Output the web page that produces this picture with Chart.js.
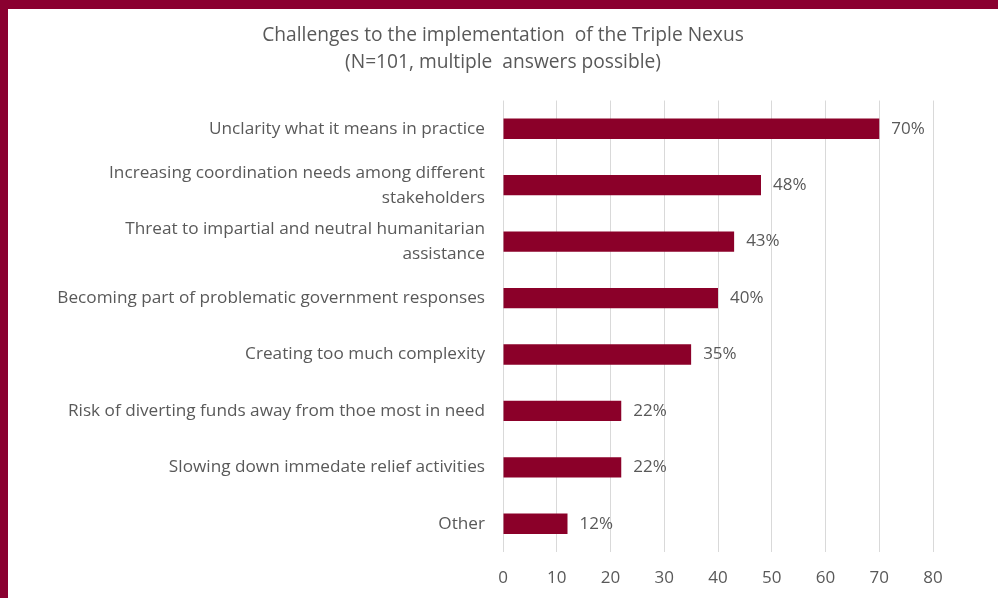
<!DOCTYPE html>
<html>
<head>
<meta charset="utf-8">
<script src="https://cdn.jsdelivr.net/npm/chart.js@4"></script>
<style>
  html, body { margin: 0; padding: 0; background: #8a0030; }
  #wrap { position: absolute; left: 8px; top: 9px; width: 990px; height: 589px; background: #fff; }
</style>
</head>
<body>
<div id="wrap"><canvas id="nexusChart" width="990" height="589"></canvas></div>
<script>
const categories = [
    'Unclarity what it means in practice',
    ['Increasing coordination needs among different', 'stakeholders'],
    ['Threat to impartial and neutral humanitarian', 'assistance'],
    'Becoming part of problematic government responses',
    'Creating too much complexity',
    'Risk of diverting funds away from thoe most in need',
    'Slowing down immedate relief activities',
    'Other'
];
const shares = [70, 48, 43, 40, 35, 22, 22, 12];
const titleLines = ['Challenges to the implementation  of the Triple Nexus', '(N=101, multiple  answers possible)'];

const textGray = '#595959';
const barColor = '#8b0029';
const fontFamily = '"Open Sans", sans-serif';

// draws the "70%" style labels at the end of each bar
const valueLabels = {
    id: 'valueLabels',
    afterDatasetsDraw(chart) {
        const ctx = chart.ctx;
        const meta = chart.getDatasetMeta(0);
        ctx.save();
        ctx.font = '17px ' + fontFamily;
        ctx.fillStyle = textGray;
        ctx.textBaseline = 'middle';
        ctx.textAlign = 'left';
        meta.data.forEach((bar, i) => {
            ctx.fillText(shares[i] + '%', bar.x + 12, bar.y);
        });
        ctx.restore();
    }
};

const ctx = document.getElementById('nexusChart').getContext('2d');
new Chart(ctx, {
    type: 'bar',
    data: {
        labels: categories,
        datasets: [{
            data: shares,
            backgroundColor: barColor,
            barPercentage: 0.36,
            categoryPercentage: 1
        }]
    },
    options: {
        indexAxis: 'y',
        responsive: false,
        animation: false,
        layout: { padding: 0 },
        plugins: {
            legend: { display: false },
            tooltip: { enabled: false },
            title: {
                display: true,
                text: titleLines,
                color: textGray,
                font: { family: fontFamily, size: 19.2, weight: 'normal', lineHeight: 1.42 },
                padding: { top: 13, bottom: 24 }
            }
        },
        scales: {
            x: {
                min: 0,
                max: 80,
                ticks: {
                    stepSize: 10,
                    color: textGray,
                    font: { family: fontFamily, size: 17 },
                    padding: 16
                },
                grid: { color: '#d9d9d9', drawTicks: false },
                border: { display: false },
                afterFit(scale) { scale.height = 46; }
            },
            y: {
                ticks: {
                    color: textGray,
                    font: { family: fontFamily, size: 17.2, lineHeight: 1.45 },
                    padding: 10
                },
                grid: { display: false },
                border: { display: false },
                afterFit(scale) { scale.width = 495; }
            },
            // empty right-hand axis only reserves room for the value labels
            yRight: {
                type: 'linear',
                position: 'right',
                ticks: { display: false },
                grid: { display: false },
                border: { display: false },
                afterFit(scale) { scale.width = 65; }
            }
        }
    },
    plugins: [valueLabels]
});
</script>
</body>
</html>
